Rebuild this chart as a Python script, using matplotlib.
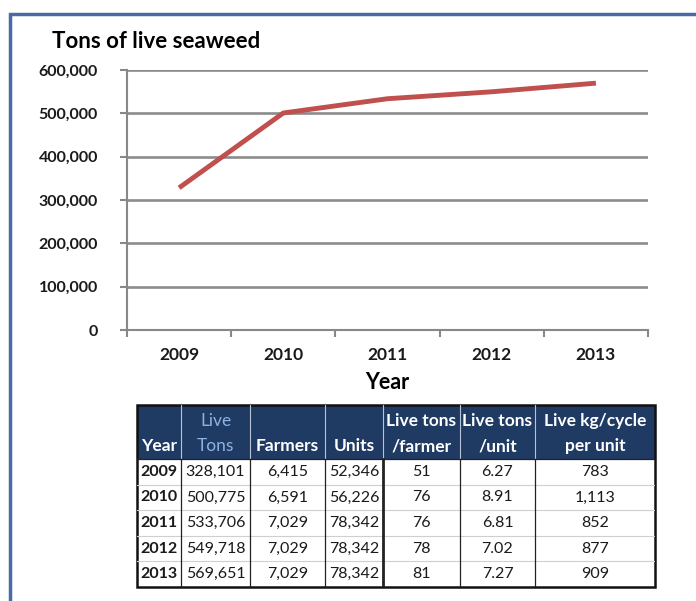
import numpy as np
import matplotlib
matplotlib.use('Agg')
import matplotlib.pyplot as plt
from matplotlib.patches import Rectangle
from matplotlib.ticker import FuncFormatter

plt.rcParams['font.family'] = ['Lato', 'DejaVu Sans']

# data
years = ['2009', '2010', '2011', '2012', '2013']
live_tons = [328101, 500775, 533706, 549718, 569651]
farmers = [6415, 6591, 7029, 7029, 7029]
units = [52346, 56226, 78342, 78342, 78342]
tons_per_farmer = [51, 76, 76, 78, 81]
tons_per_unit = [6.27, 8.91, 6.81, 7.02, 7.27]
kg_cycle_unit = [783, 1113, 852, 877, 909]

header_top = ['', 'Live', '', '', 'Live tons', 'Live tons', 'Live kg/cycle']
header_bot = ['Year', 'Tons', 'Farmers', 'Units', '/farmer', '/unit', 'per unit']

fig = plt.figure(figsize=(6.96, 6.01), dpi=100)

# blue frame round the whole thing
fig.patches.append(Rectangle((10 / 696, -0.05), 1.2, 1 - 14 / 601 + 0.05,
                             transform=fig.transFigure, fill=False,
                             edgecolor='#4a6aa5', lw=2.5, zorder=0))

# line chart
ax = fig.add_axes([127 / 696, 1 - 330 / 601, 521 / 696, 260 / 601])
x = np.arange(len(years))
ax.plot(x, live_tons, color='#c0504d', lw=3.5, solid_capstyle='butt', zorder=3)
ax.set_xlim(-0.5, len(years) - 0.5)
ax.set_ylim(0, 600000)
ax.set_yticks(np.arange(0, 600001, 100000))
ax.yaxis.set_major_formatter(FuncFormatter(lambda v, p: f'{int(v):,}'))
ax.set_xticks(x)
ax.set_xticklabels(years)
ax.set_xticks(np.arange(-0.5, len(years), 1), minor=True)
ax.tick_params(axis='x', which='major', length=0, pad=12)
ax.tick_params(axis='x', which='minor', length=5, width=1.5, color='#888888', direction='out')
ax.tick_params(axis='y', length=5, width=1.5, color='#888888', pad=16)
for lab in ax.get_xticklabels():
    lab.set_fontweight('bold')
    lab.set_fontsize(12.5)
    lab.set_color('#1a1a1a')
for lab in ax.get_yticklabels():
    lab.set_fontweight('bold')
    lab.set_fontsize(11.5)
    lab.set_color('#1a1a1a')
ax.grid(axis='y', color='#8c8c8c', lw=1.9)
ax.set_axisbelow(True)
for s in ['top', 'right']:
    ax.spines[s].set_visible(False)
for s in ['left', 'bottom']:
    ax.spines[s].set_color('#888888')
    ax.spines[s].set_linewidth(1.5)
ax.set_xlabel('Year', fontsize=15.5, fontweight='bold', labelpad=7)
fig.text(52 / 696, 1 - 42 / 601, 'Tons of live seaweed', fontsize=16,
         fontweight='bold', va='center', ha='left')

# table
col_w = [44, 69, 75, 58, 77, 75, 120]
head_h = 54
row_h = 25.6
tw = sum(col_w)
th = head_h + row_h * len(years)
tax = fig.add_axes([137 / 696, 1 - 587 / 601, tw / 696, th / 601])
tax.set_xlim(0, tw)
tax.set_ylim(th, 0)
tax.axis('off')

edges = np.concatenate([[0], np.cumsum(col_w)])
centers = (edges[:-1] + edges[1:]) / 2

tax.add_patch(Rectangle((0, 0), tw, head_h, facecolor='#1f3a63', edgecolor='none'))
for e in edges[1:-1]:
    tax.plot([e, e], [0, head_h], color='#b8c4d6', lw=0.8)

for i in range(len(col_w)):
    c = '#8db3e2' if i == 1 else 'white'
    w = 'normal' if i == 1 else 'bold'
    tax.text(centers[i], 16, header_top[i], color=c, fontweight=w,
             fontsize=12.5, ha='center', va='center')
    tax.text(centers[i], 41, header_bot[i], color=c, fontweight=w,
             fontsize=12.5, ha='center', va='center')

cols = [years,
        [f'{v:,}' for v in live_tons],
        [f'{v:,}' for v in farmers],
        [f'{v:,}' for v in units],
        [str(v) for v in tons_per_farmer],
        [f'{v:.2f}' for v in tons_per_unit],
        [f'{v:,}' for v in kg_cycle_unit]]

for r in range(len(years)):
    y0 = head_h + r * row_h
    if r > 0:
        tax.plot([0, tw], [y0, y0], color='#cfcfcf', lw=0.8)
    for i in range(len(col_w)):
        tax.text(centers[i], y0 + row_h / 2, cols[i][r], fontsize=11.5,
                 fontweight='bold' if i == 0 else 'normal',
                 color='#1a1a1a', ha='center', va='center')

for i, e in enumerate(edges[1:-1]):
    tax.plot([e, e], [head_h, th], color='#222222', lw=2 if i == 3 else 0.9)
tax.plot([0, tw], [head_h, head_h], color='#222222', lw=0.9)
tax.add_patch(Rectangle((0, 0), tw, th, fill=False, edgecolor='#111111', lw=1.8,
                        clip_on=False))

fig.savefig('out.png', dpi=100)
